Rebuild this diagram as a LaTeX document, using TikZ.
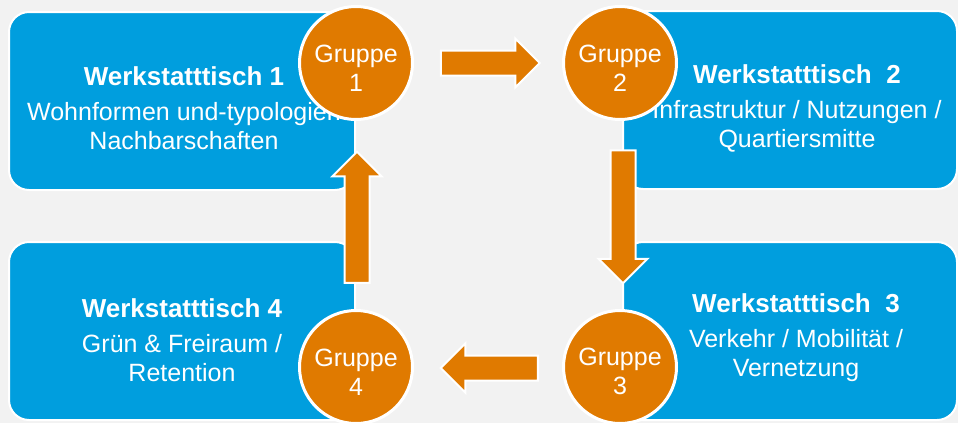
\documentclass[tikz,border=0pt]{standalone}
\usepackage{fontspec}
\setmainfont{Liberation Sans}
\usetikzlibrary{shapes.arrows,calc}
\definecolor{wsblue}{RGB}{0,158,222}
\definecolor{wsorange}{RGB}{224,122,0}
\definecolor{wsgray}{RGB}{242,242,242}

\begin{document}
\begin{tikzpicture}[x=1pt, y=-1pt,
  werkbox/.style={rectangle, draw=white, line width=2pt, fill=wsblue, rounded corners=20pt, minimum width=346pt, minimum height=178pt, inner sep=0pt},
  werktext/.style={text=white, align=center, font=\fontsize{25}{29}\selectfont},
  gruppe/.style={circle, draw=white, line width=3pt, fill=wsorange, minimum size=113pt, inner sep=0pt, text=white, align=center, font=\fontsize{25}{29}\selectfont},
  pfeil/.style={single arrow, draw=white, line width=2pt, fill=wsorange, inner xsep=0pt, inner ysep=11.5pt, single arrow head extend=12pt}]
\fill[wsgray] (0,0) rectangle (958,423);
\useasboundingbox (0,0) rectangle (958,423);
% tables
\node[werkbox] (ws1) at (182,101) {};
\node[werkbox, minimum width=334pt] (ws2) at (790,100) {};
\node[werkbox, minimum width=334pt] (ws3) at (790,331) {};
\node[werkbox] (ws4) at (182,331) {};
\node[werktext] (txt1) at (184,108) {\textbf{\fontsize{26}{29}\selectfont Werkstatttisch 1}\\[6pt]Wohnformen und-typologien\\Nachbarschaften};
\node[werktext] (txt2) at (797,108) {\textbf{\fontsize{26}{29}\selectfont Werkstatttisch~~2}\\[6pt]Infrastruktur / Nutzungen /\\Quartiersmitte};
\node[werktext] (txt3) at (796,338) {\textbf{\fontsize{26}{29}\selectfont Werkstatttisch~~3}\\[6pt]Verkehr / Mobilität /\\Vernetzung};
\node[werktext] (txt4) at (182,340) {\textbf{\fontsize{26}{29}\selectfont Werkstatttisch 4}\\[6pt]Grün \& Freiraum /\\Retention};
% groups
\node[gruppe] (g1) at (356,63) {\rule{0pt}{27pt}Gruppe\\1};
\node[gruppe] (g2) at (620,63) {\rule{0pt}{27pt}Gruppe\\2};
\node[gruppe] (g3) at (620,367) {\rule{0pt}{27pt}Gruppe\\3};
\node[gruppe] (g4) at (356,367) {\rule{0pt}{27pt}Gruppe\\4};
% rotation
\node[pfeil, minimum height=99pt] (a12) at ($(g1)!0.5!(g2)+(-4,0)$) {};
\node[pfeil, minimum height=133pt, rotate=-90] (a23) at ($(g2)!0.5!(g3)+(3,-4.5)$) {};
\node[pfeil, minimum height=97pt, rotate=180] (a34) at ($(g3)!0.5!(g4)+(7.5,1)$) {};
\node[pfeil, minimum height=131pt, rotate=90] (a41) at ($(g4)!0.5!(g1)+(1,8.5)$) {};
\end{tikzpicture}
\end{document}
